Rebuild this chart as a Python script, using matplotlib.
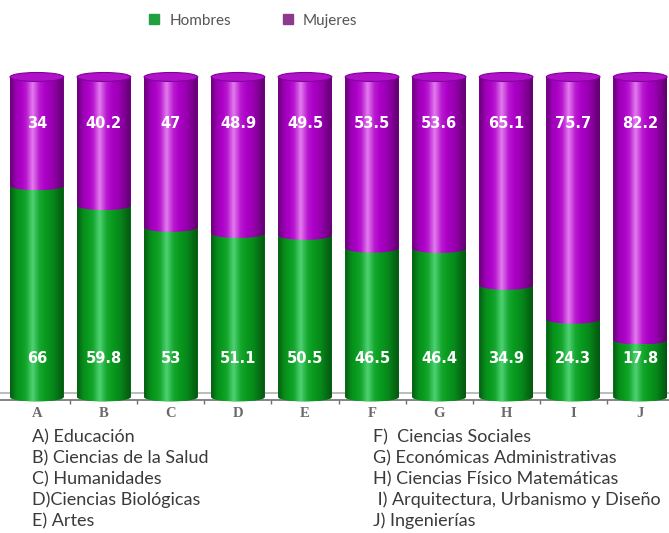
import numpy as np
import matplotlib.pyplot as plt
from matplotlib.patches import Ellipse, PathPatch
from matplotlib.path import Path
from matplotlib.lines import Line2D
from matplotlib.colors import to_rgb

letras = ["A", "B", "C", "D", "E", "F", "G", "H", "I", "J"]
hombres = [66, 59.8, 53, 51.1, 50.5, 46.5, 46.4, 34.9, 24.3, 17.8]
mujeres = [34, 40.2, 47, 48.9, 49.5, 53.5, 53.6, 65.1, 75.7, 82.2]
carreras_izq = ["A) Educación", "B) Ciencias de la Salud", "C) Humanidades",
                "D)Ciencias Biológicas", "E) Artes"]
carreras_der = ["F)  Ciencias Sociales", "G) Económicas Administrativas",
                "H) Ciencias Físico Matemáticas",
                " I) Arquitectura, Urbanismo y Diseño", "J) Ingenierías"]

verde = "#089c1e"
morado = "#ad00c8"
e = 1.4  # half height of the ellipses (data units)


def sombra(color, dark, light):
    # horizontal shading profile of a cylinder
    u = np.linspace(0, 1, 200)
    s = np.interp(u, [0, 0.12, 0.3, 0.42, 0.55, 0.8, 1],
                  [-0.45, -0.1, 0.1, 0.5, 0.1, -0.15, -0.5])
    c = np.array(to_rgb(color))
    img = np.empty((1, len(u), 3))
    for i, v in enumerate(s):
        if v >= 0:
            img[0, i] = c + (np.array(to_rgb(light)) - c) * v * 1.6
        else:
            img[0, i] = c * (1 + v * dark)
    return np.clip(img, 0, 1)


def cilindro(ax, x0, w, y0, y1, color, light):
    t = np.linspace(np.pi, 2 * np.pi, 40)
    cx = x0 + w / 2
    verts = list(zip(cx + w / 2 * np.cos(t), y0 + e * np.sin(t)))
    verts += [(x0 + w, y1), (x0, y1), verts[0]]
    codes = [Path.MOVETO] + [Path.LINETO] * (len(verts) - 2) + [Path.CLOSEPOLY]
    patch = PathPatch(Path(verts, codes), facecolor=color, edgecolor="none", zorder=3)
    ax.add_patch(patch)
    im = ax.imshow(sombra(color, 0.9, light), extent=(x0, x0 + w, y0 - e, y1),
                   aspect="auto", zorder=3.1, interpolation="bilinear")
    im.set_clip_path(patch)


fig = plt.figure(figsize=(6.69, 5.33), dpi=100)
ax = fig.add_axes([0, 0.2402, 1, 0.6394])
x = np.arange(len(letras))
w = 0.8

b1 = ax.bar(x, hombres, w, color=verde, zorder=2)
b2 = ax.bar(x, mujeres, w, bottom=hombres, color=morado, zorder=2)

for r1, r2 in zip(b1, b2):
    x0 = r1.get_x()
    cilindro(ax, x0, w, r1.get_y(), r1.get_y() + r1.get_height(), verde, "#5fe088")
    cilindro(ax, x0, w, r2.get_y(), r2.get_y() + r2.get_height(), morado, "#f09af8")
    top = r2.get_y() + r2.get_height()
    cap = Ellipse((x0 + w / 2, top), w, 2 * e, facecolor="#b012c8",
                  edgecolor="#80009a", lw=0.8, zorder=4)
    ax.add_patch(cap)

for xi, h, m in zip(x, hombres, mujeres):
    ax.text(xi, 11.9, f"{h:g}", ha="center", va="center", color="white",
            fontsize=10.5, fontweight="bold", zorder=5)
    ax.text(xi, 85.6, f"{m:g}", ha="center", va="center", color="white",
            fontsize=10.5, fontweight="bold", zorder=5)

# floor
ax.axhline(1.3, color="#b0b0b0", lw=1.2, zorder=1)
ax.axhline(-0.9, color="#707070", lw=1.2, zorder=1)
ax.vlines(x[:-1] + 0.5, -2.3, -0.9, color="#707070", lw=1, zorder=1)

ax.set_xlim(-0.55, 9.43)
ax.set_ylim(-2.5, 104)
ax.set_xticks(x, letras, family="Liberation Serif", fontsize=10.5, fontweight="bold",
              color="#6a6a6a")
ax.tick_params(axis="x", length=0, pad=1.5)
ax.set_yticks([])
for s in ax.spines.values():
    s.set_visible(False)

handles = [Line2D([], [], ls="", marker="s", markersize=7, color="#22a040"),
           Line2D([], [], ls="", marker="s", markersize=7, color="#8c3a8e")]
fig.legend(handles, ["Hombres", "Mujeres"], loc="center", ncol=2,
           bbox_to_anchor=(0.378, 0.961), frameon=False, handlelength=0.8,
           handletextpad=0.6, columnspacing=3.3,
           prop={"family": "Lato", "size": 11}, labelcolor="#555555")

for i, (a, b) in enumerate(zip(carreras_izq, carreras_der)):
    yy = 1 - (437 + 21 * i) / 533
    fig.text(32 / 669, yy, a, family="Lato", fontsize=13, color="#3a3a3a", va="center")
    fig.text(373 / 669, yy, b, family="Lato", fontsize=13, color="#3a3a3a", va="center")

fig.savefig("out.png", dpi=100)
